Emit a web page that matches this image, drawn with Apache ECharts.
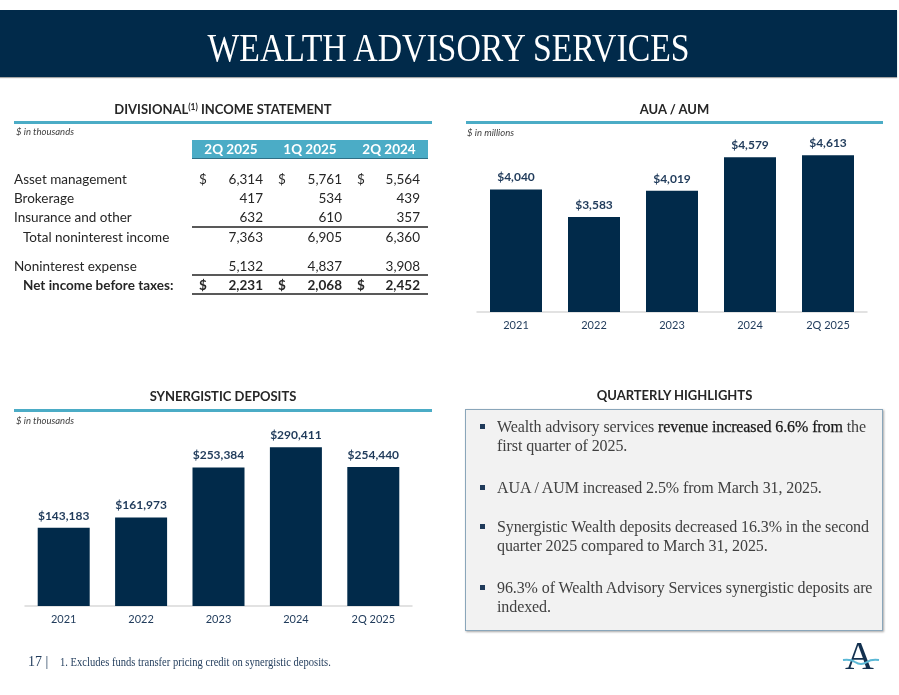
<!DOCTYPE html>
<html>
<head>
<meta charset="utf-8">
<script src="https://cdn.jsdelivr.net/npm/echarts@6/dist/echarts.min.js"></script>
<style>
  html, body { margin:0; padding:0; background:#fff; }
  #page { position:relative; width:899px; height:695px; overflow:hidden; font-family: Lato, "Open Sans", sans-serif; }
  #chart { position:absolute; left:0; top:0; width:899px; height:695px; }
  .abs { position:absolute; white-space:nowrap; }
  #titlebar { position:absolute; left:0; top:10px; width:897px; height:67px; background:#012a4a; box-shadow:0 1px 1px rgba(0,0,0,0.35); }
  #titletext { position:absolute; left:0; top:10px; width:897px; height:67px; line-height:76px; text-align:center; color:#fff; font-family:"Liberation Serif", "DejaVu Serif", serif; font-size:39px; transform:scaleX(0.865); transform-origin:center; }
  .sectitle { font-weight:700; font-size:13px; color:#262626; text-align:center; }
  .rule { position:absolute; height:2.5px; background:#4bacc6; }
  .sub { font-style:italic; font-size:9.5px; color:#404040; }
  .cell { font-size:13.5px; color:#262626; line-height:16px; }
  .num { text-align:right; }
  .hline { position:absolute; background:#595959; }
  #hbox { position:absolute; left:465px; top:409px; width:416px; height:220px; background:#f2f2f2; border:1.5px solid #8aa6ba; box-shadow:1px 1px 2px rgba(0,0,0,0.35); }
  .bullet { position:absolute; width:5px; height:5px; background:#1f3a5a; }
  .htext { position:absolute; left:497px; font-family:"Liberation Serif", serif; font-size:16px; line-height:19px; color:#404040; white-space:nowrap; letter-spacing:-0.1px; }
  .em { color:#1a1a1a; -webkit-text-stroke:0.25px #1a1a1a; }
</style>
</head>
<body>
<div id="page">
  <div id="chart"></div>
  <div id="titlebar"></div>
  <div id="titletext">WEALTH ADVISORY SERVICES</div>
  <div id="overlay"></div>
</div>
<script>
// ---------- data ----------
const years = ['2021', '2022', '2023', '2024', '2Q 2025'];
const aumValues = [4040, 3583, 4019, 4579, 4613];          // $ in millions
const depositValues = [143183, 161973, 253384, 290411, 254440]; // $ in thousands

const incomeColumns = ['2Q 2025', '1Q 2025', '2Q 2024'];
const assetManagement = [6314, 5761, 5564];
const brokerage = [417, 534, 439];
const insuranceOther = [632, 610, 357];
const totalNoninterestIncome = [7363, 6905, 6360];
const noninterestExpense = [5132, 4837, 3908];
const netIncomeBeforeTaxes = [2231, 2068, 2452];

const highlights = [
  ['Wealth advisory services <span class="em">revenue increased 6.6% from</span> the', 'first quarter of 2025.'],
  ['AUA / AUM increased 2.5% from March 31, 2025.'],
  ['Synergistic Wealth deposits decreased 16.3% in the second', 'quarter 2025 compared to March 31, 2025.'],
  ['96.3% of Wealth Advisory Services synergistic deposits are', 'indexed.']
];

// ---------- static layout ----------
const ov = document.getElementById('overlay');
function add(html, cls, style) {
  const d = document.createElement('div');
  d.className = 'abs ' + (cls || '');
  d.innerHTML = html;
  Object.assign(d.style, style);
  ov.appendChild(d);
  return d;
}
const fmt = v => v.toLocaleString('en-US');

// section titles
add('DIVISIONAL<sup style="font-size:8.5px;vertical-align:4px">(1)</sup> INCOME STATEMENT', 'sectitle', {left:'14px', width:'418px', top:'101px'});
add('', 'rule', {left:'14px', width:'418px', top:'121px'});
add('$ in thousands', 'sub', {left:'16px', top:'126px'});

add('AUA / AUM', 'sectitle', {left:'466px', width:'417px', top:'101px'});
add('', 'rule', {left:'466px', width:'417px', top:'121px'});
add('$ in millions', 'sub', {left:'467px', top:'127px'});

add('SYNERGISTIC DEPOSITS', 'sectitle', {left:'14px', width:'418px', top:'388px'});
add('', 'rule', {left:'14px', width:'418px', top:'409px'});
add('$ in thousands', 'sub', {left:'16px', top:'415px'});

add('QUARTERLY HIGHLIGHTS', 'sectitle', {left:'465px', width:'419px', top:'387px'});

// income table header
add('', '', {left:'192px', top:'140px', width:'236px', height:'18px', background:'#4bacc6', borderBottom:'1px solid #2f6f86'});
const colCenters = [231, 310, 389];
incomeColumns.forEach((c, i) => {
  add(c, 'cell', {left:(colCenters[i] - 40) + 'px', width:'80px', textAlign:'center', top:'141px', color:'#fff', fontWeight:'700'});
});
const dollarX = [199, 278, 357];
const rightX = [263, 342, 420];
const rows = [
  {label:'Asset management', vals:assetManagement, y:179, x:14, dollar:true},
  {label:'Brokerage', vals:brokerage, y:198, x:14},
  {label:'Insurance and other', vals:insuranceOther, y:217, x:14},
  {label:'Total noninterest income', vals:totalNoninterestIncome, y:237, x:23},
  {label:'Noninterest expense', vals:noninterestExpense, y:266, x:14},
  {label:'Net income before taxes:', vals:netIncomeBeforeTaxes, y:285, x:23, dollar:true, bold:true}
];
rows.forEach(r => {
  const fw = r.bold ? '700' : '400';
  add(r.label, 'cell', {left:r.x + 'px', top:(r.y - 8) + 'px', fontWeight:fw});
  r.vals.forEach((v, i) => {
    if (r.dollar) add('$', 'cell', {left:dollarX[i] + 'px', top:(r.y - 8) + 'px', fontWeight:fw});
    add(fmt(v), 'cell num', {left:(rightX[i] - 60) + 'px', width:'60px', top:(r.y - 8) + 'px', fontWeight:fw});
  });
});
add('', 'hline', {left:'192px', width:'236px', top:'226px', height:'1.5px'});
add('', 'hline', {left:'192px', width:'236px', top:'274px', height:'1.5px'});
add('', 'hline', {left:'192px', width:'236px', top:'293px', height:'2px'});

// highlights box
const hb = document.createElement('div'); hb.id = 'hbox'; ov.appendChild(hb);
const bulletTops = [427, 488, 527, 588];
highlights.forEach((lines, i) => {
  const y = bulletTops[i];
  const b = document.createElement('div'); b.className = 'bullet';
  b.style.left = '480px'; b.style.top = (y - 3) + 'px'; ov.appendChild(b);
  const t = document.createElement('div'); t.className = 'htext';
  t.style.top = (y - 10) + 'px';
  t.innerHTML = lines.join('<br>');
  ov.appendChild(t);
});

// footer
add('17 |', '', {left:'28px', top:'654px', fontFamily:'"Liberation Serif", serif', fontSize:'14px', color:'#1f3a5a'});
add('1. Excludes funds transfer pricing credit on synergistic deposits.', '', {left:'60px', top:'655px', fontFamily:'"Liberation Serif", serif', fontSize:'12px', color:'#1f3a5a', transform:'scaleX(0.88)', transformOrigin:'left center'});
// logo
add('A', '', {left:'845px', top:'636px', fontFamily:'"Liberation Serif", serif', fontSize:'40px', color:'#12304f', lineHeight:'40px'});
add('<svg width="40" height="12" viewBox="0 0 40 12"><path d="M1 4 Q 9 3 13 6 Q 19 10 25 6 Q 29 3 37 4" stroke="#5bb8d6" stroke-width="2" fill="none"/></svg>', '', {left:'842px', top:'652px'});

// ---------- charts ----------
const chart = echarts.init(document.getElementById('chart'), null, {renderer:'canvas'});
const navy = '#012a4a';
const labelColor = '#1f3a5a';
const fontFamily = 'Lato, "Open Sans", sans-serif';
function xAxis(idx) {
  return {
    type:'category', gridIndex:idx, data:years,
    axisLine:{lineStyle:{color:'#d9d9d9', width:1.5}},
    axisTick:{show:false},
    axisLabel:{color:labelColor, fontSize:11, margin:8, fontFamily}
  };
}
const lbl = {
  show:true, position:'top', distance:6, color:labelColor, fontWeight:'bold', fontSize:12, fontFamily,
  formatter: p => '$' + fmt(p.value)
};
chart.setOption({
  animation:false,
  grid:[
    {left:477, width:390, top:132, height:180},
    {left:25, width:387, top:442, height:164}
  ],
  xAxis:[xAxis(0), xAxis(1)],
  yAxis:[
    {type:'value', gridIndex:0, min:2000, max:5000, show:false},
    {type:'value', gridIndex:1, min:0, max:300000, show:false}
  ],
  series:[
    {type:'bar', xAxisIndex:0, yAxisIndex:0, data:aumValues, barWidth:52, itemStyle:{color:navy}, label:lbl},
    {type:'bar', xAxisIndex:1, yAxisIndex:1, data:depositValues, barWidth:52, itemStyle:{color:navy}, label:lbl}
  ]
});
</script>
</body>
</html>
